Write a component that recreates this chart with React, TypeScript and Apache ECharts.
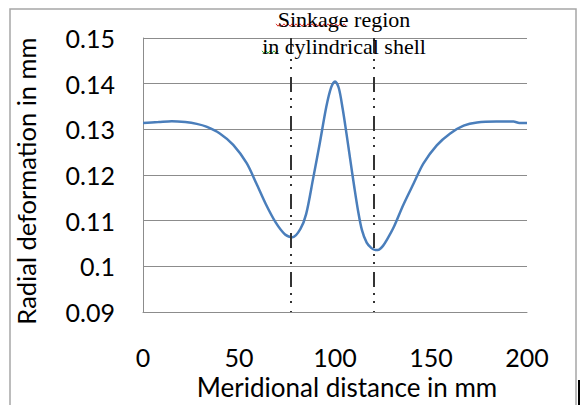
import React, { useEffect, useRef } from "react";
import * as echarts from "echarts";

const distance = [0, 8, 15, 22, 28, 33, 40, 47, 54, 59, 64, 69, 74, 78, 82, 85, 88.5, 92, 95.5, 98, 100, 102, 104, 106, 108, 110, 112, 114, 116.5, 119, 121, 123, 125, 127, 130.5, 135.5, 141, 146, 153, 160, 167, 174, 184, 193, 196, 200];
const deformation = [0.1314, 0.1316, 0.1318, 0.1316, 0.1312, 0.1306, 0.1291, 0.1266, 0.1226, 0.1182, 0.1136, 0.1097, 0.107, 0.1064, 0.1082, 0.1115, 0.119, 0.1268, 0.135, 0.1392, 0.1405, 0.139, 0.1345, 0.129, 0.1232, 0.1175, 0.1122, 0.108, 0.1052, 0.104, 0.1036, 0.1037, 0.1045, 0.1058, 0.1085, 0.1134, 0.1182, 0.1225, 0.1265, 0.1291, 0.1308, 0.1315, 0.1317, 0.1317, 0.1314, 0.1314];
const regionBounds = [77, 120];
const xTicks = { min: 0, max: 200, interval: 50 };
const yTicks = { min: 0.09, max: 0.15, interval: 0.01 };
const titleLines = ["Sinkage region", "in cylindrical shell"];
const xName = "Meridional distance in mm";
const yName = "Radial deformation in mm";

const FONT = "Lato";

function wave(x0: number, x1: number, y: number): number[][] {
  const pts: number[][] = [];
  let up = true;
  for (let x = x0; x <= x1; x += 2) {
    pts.push([x, up ? y - 1.2 : y + 1.2]);
    up = !up;
  }
  return pts;
}

export default function App() {
  const ref = useRef<HTMLDivElement>(null);
  useEffect(() => {
    if (!ref.current) return;
    const chart = echarts.init(ref.current, null, { renderer: "svg" });
    const data = distance.map((d, i) => [d, deformation[i]]);
    chart.setOption({
      animation: false,
      backgroundColor: "#ffffff",
      title: {
        text: titleLines.join("\n"),
        left: 339,
        top: 1,
        textAlign: "center",
        textStyle: {
          fontFamily: "Liberation Serif",
          fontSize: 22,
          fontWeight: "normal",
          color: "#000",
          lineHeight: 27,
        },
      },
      grid: { left: 143, top: 38, right: 57, bottom: 92 },
      xAxis: {
        type: "value",
        min: xTicks.min,
        max: xTicks.max,
        interval: xTicks.interval,
        name: xName,
        nameLocation: "middle",
        nameGap: 60,
        nameTextStyle: { fontFamily: FONT, fontSize: 26, color: "#000", padding: [0, 0, 0, 24] },
        axisLine: { show: true, lineStyle: { color: "#8c8c8c", width: 1 } },
        axisTick: { show: false },
        splitLine: { show: false },
        axisLabel: { margin: 32, fontFamily: FONT, fontSize: 25, color: "#000" },
      },
      yAxis: {
        type: "value",
        min: yTicks.min,
        max: yTicks.max,
        interval: yTicks.interval,
        name: yName,
        nameLocation: "middle",
        nameGap: 104,
        nameTextStyle: { fontFamily: FONT, fontSize: 25.5, color: "#000", padding: [0, 12, 0, 0] },
        axisLine: { show: true, lineStyle: { color: "#8c8c8c", width: 1 } },
        axisTick: { show: false },
        splitLine: { show: true, lineStyle: { color: "#8c8c8c", width: 1 } },
        axisLabel: { margin: 28, fontFamily: FONT, fontSize: 25, color: "#000" },
      },
      series: [
        {
          type: "line",
          data,
          smooth: 0.3,
          showSymbol: false,
          lineStyle: { color: "#4a7ebb", width: 2.5 },
          markLine: {
            silent: true,
            symbol: ["none", "none"],
            label: { show: false },
            lineStyle: { color: "#333", width: 2, type: [15, 6, 2, 6, 2, 8] },
            data: regionBounds.map((b) => [
              { coord: [b, yTicks.max] },
              { coord: [b, yTicks.min] },
            ]),
          },
        },
      ],
      graphic: [
        {
          type: "rect",
          shape: { x: 10, y: 9, width: 566, height: 420 },
          style: { fill: "none", stroke: "#a6a6a6", lineWidth: 1.5 },
          silent: true,
        },
        {
          type: "rect",
          shape: { x: 578, y: 380, width: 2, height: 25 },
          style: { fill: "#000" },
          silent: true,
        },
        {
          type: "polyline",
          shape: { points: wave(276, 346, 25) },
          style: { stroke: "#e03030", lineWidth: 1, fill: "none" },
          silent: true,
        },
        {
          type: "polyline",
          shape: { points: wave(262, 278, 52) },
          style: { stroke: "#30a030", lineWidth: 1, fill: "none" },
          silent: true,
        },
      ],
    });
    return () => chart.dispose();
  }, []);
  return (
    <div
      ref={ref}
      style={{ position: "fixed", left: 0, top: 0, width: 584, height: 405 }}
    />
  );
}
